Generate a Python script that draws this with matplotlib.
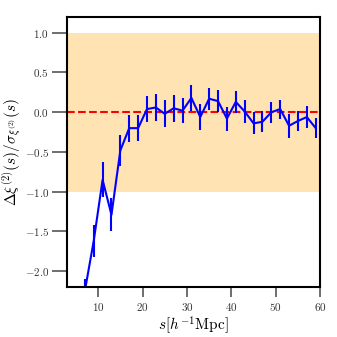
import matplotlib
matplotlib.use("Agg")
import matplotlib.pyplot as plt
import numpy as np

plt.rcParams['font.family'] = 'serif'
plt.rcParams['font.serif'] = ['cmr10']
plt.rcParams['mathtext.fontset'] = 'cm'
plt.rcParams['axes.formatter.use_mathtext'] = True

s = [7, 9, 11, 13, 15, 17, 19, 21, 23, 25, 27, 29, 31, 33, 35, 37, 39, 41, 43, 45, 47, 49, 51, 53, 55, 57, 59]
dxi = [-2.25, -1.62, -0.85, -1.29, -0.48, -0.20, -0.20, 0.04, 0.06, -0.02, 0.05, 0.02, 0.18, -0.06, 0.17, 0.14,
       -0.08, 0.13, 0.01, -0.14, -0.12, 0.00, 0.04, -0.17, -0.11, -0.06, -0.20]
err = [0.15, 0.20, 0.22, 0.21, 0.19, 0.17, 0.16, 0.16, 0.17, 0.17, 0.17, 0.16, 0.16, 0.16, 0.14, 0.14,
       0.15, 0.14, 0.14, 0.14, 0.13, 0.13, 0.12, 0.15, 0.13, 0.14, 0.13]

fig = plt.figure(figsize=(3.37, 3.37), dpi=100)
ax = fig.add_axes([0.199, 0.148, 0.751, 0.802])

ax.axhspan(-1, 1, color='orange', alpha=0.3, lw=0)
ax.axhline(0, color='red', ls='--', lw=1.5)
ax.errorbar(s, dxi, yerr=err, color='blue', lw=1.5, elinewidth=1.5, capsize=0)

ax.set_xlim(3, 60)
ax.set_ylim(-2.2, 1.2)
ax.set_xticks([10, 20, 30, 40, 50, 60])
ax.set_yticks([-2.0, -1.5, -1.0, -0.5, 0.0, 0.5, 1.0])
ax.set_yticklabels(['$-2.0$', '$-1.5$', '$-1.0$', '$-0.5$', '$0.0$', '$0.5$', '$1.0$'])
ax.set_xticklabels(['$10$', '$20$', '$30$', '$40$', '$50$', '$60$'])

for sp in ax.spines.values():
    sp.set_linewidth(1.5)
ax.tick_params(axis='y', length=11, width=1.2, color='#555555', labelsize=8, labelcolor='#333333', pad=2)
ax.tick_params(axis='x', length=7, width=1.2, color='#555555', labelsize=8, labelcolor='#333333', pad=3)

ax.set_xlabel(r'$s[h^{-1}\mathrm{Mpc}]$', fontsize=11, labelpad=1)
ax.set_ylabel(r'$\Delta\xi^{(2)}(s)/\sigma_{\xi^{(2)}}(s)$', fontsize=11, labelpad=1)

fig.savefig('out.png', dpi=100)
